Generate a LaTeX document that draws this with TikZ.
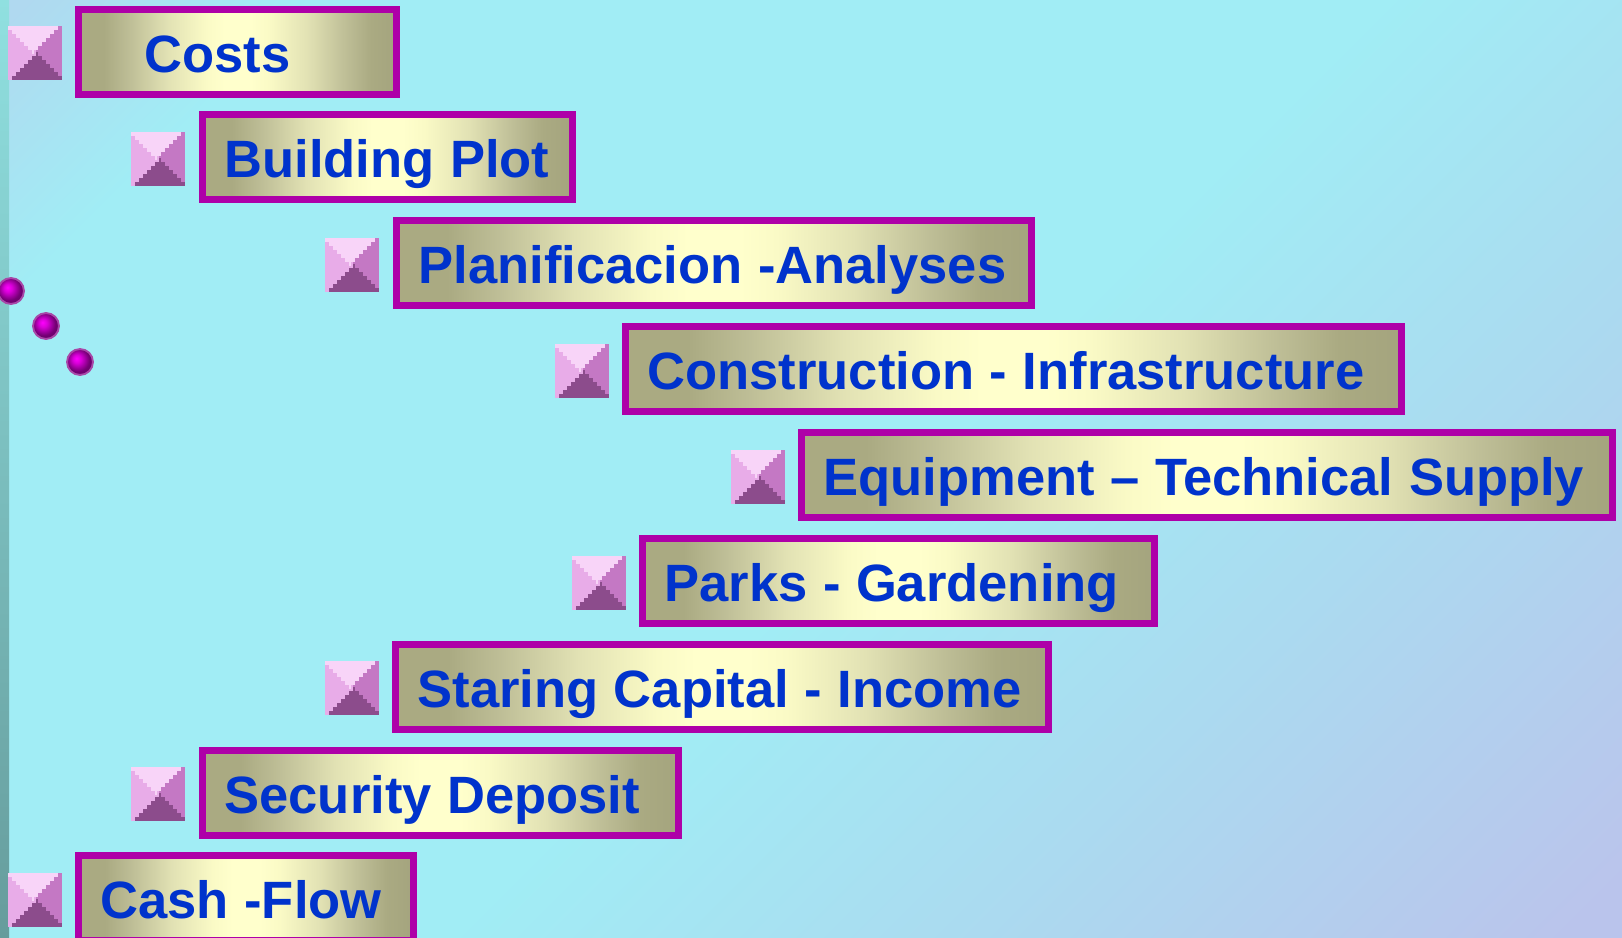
\documentclass[tikz,border=0pt]{standalone}
\usepackage{fontspec}
\setmainfont{Liberation Sans}
\usepackage{xcolor}
\definecolor{barframe}{HTML}{AE00A8}
\definecolor{bartext}{HTML}{0033CC}
\definecolor{barolive}{HTML}{AAAA82}
\definecolor{barolivedark}{HTML}{A4A47E}
\definecolor{barlight}{HTML}{FFFFCC}
\definecolor{iconleft}{HTML}{E8ACE8}
\definecolor{iconright}{HTML}{C478C4}
\definecolor{icontop}{HTML}{F8D4F8}
\definecolor{iconbottom}{HTML}{8C4C8C}
\definecolor{dotrim}{HTML}{A848A8}
\definecolor{striptop}{HTML}{90E0E0}
\definecolor{stripbottom}{HTML}{669C9C}
\pgfdeclarehorizontalshading{barshade}{100bp}{color(0bp)=(barolive); color(29bp)=(barolive); rgb(33bp)=(0.745,0.745,0.59); rgb(39bp)=(0.885,0.885,0.705); rgb(45bp)=(0.98,0.98,0.775); color(48bp)=(barlight); color(52bp)=(barlight); rgb(55bp)=(0.98,0.98,0.775); rgb(61bp)=(0.885,0.885,0.705); rgb(67bp)=(0.745,0.745,0.59); color(71bp)=(barolive); color(75bp)=(barolivedark); color(100bp)=(barolivedark)}
\pgfdeclarehorizontalshading{backshade}{100bp}{rgb(0bp)=(0.69,0.85,0.94); rgb(17bp)=(0.69,0.85,0.94); rgb(23bp)=(0.63,0.93,0.96); rgb(45bp)=(0.63,0.93,0.96); rgb(56bp)=(0.67,0.855,0.94); rgb(68bp)=(0.73,0.77,0.925); rgb(100bp)=(0.73,0.77,0.925)}
\pgfdeclareradialshading{dotshade}{\pgfpoint{-7bp}{7bp}}{rgb(0bp)=(1,0,1); rgb(8bp)=(0.85,0,0.85); rgb(22bp)=(0.45,0,0.45); rgb(50bp)=(0.35,0,0.35)}

\begin{document}
\begin{tikzpicture}[x=0.75pt, y=-0.75pt]
    \tikzset{barbox/.style 2 args={draw=barframe, line width=5.25pt, shading=barshade, anchor=north west, inner sep=0pt, text width=#1pt, align=left, text height=46.9pt, text depth=16.8pt, text=bartext, font=\fontsize{39.4}{47}\selectfont\bfseries, execute at begin node={\spaceskip=0.295em\hspace*{#2pt}}}}
    \tikzset{iconpic/.pic={
        \fill[fill=iconleft] (0,0) rectangle (28,54);
        \fill[fill=iconright] (27.5,0) rectangle (54,54);
        \foreach \k in {0,...,6} {
            \fill[fill=icontop] ({4*\k},{4*\k}) rectangle ({50-4*\k},{4*\k+4.2});
            \fill[fill=iconbottom] ({4+4*\k},{50-4*\k-0.2}) rectangle ({54-4*\k},{54-4*\k});
        }
        \node[minimum size=40.5pt, inner sep=0pt] (-box) at (27,27) {};
    }}
    \tikzset{dotball/.style={circle, draw=dotrim, line width=1.4pt, minimum size=19.5pt, inner sep=0pt, shading=dotshade}}

    % background
    \useasboundingbox (0,0) rectangle (1622,938);
    \begin{scope}
        \clip (0,0) rectangle (1622,938);
        \shade[shading=backshade, shading angle=-45] (-50,-50) rectangle (1672,1672);
        \shade[top color=striptop, bottom color=stripbottom] (0,0) rectangle (9,938);
    \end{scope}

    % boxes
    \node[barbox={238.5}{49.5}] (costs) at (75,6) {Costs};
    \node[barbox={277.5}{16.5}] (plot) at (199,111) {Building Plot};
    \node[barbox={476.25}{16.5}] (plan) at (393,217) {Planificacion -Analyses};
    \node[barbox={582}{16.5}] (build) at (622,323) {Construction - Infrastructure};
    \node[barbox={608.25}{16.5}] (equip) at (798,429) {Equipment -- Technical Supply};
    \node[barbox={384}{16.5}] (parks) at (639,535) {Parks - Gardening};
    \node[barbox={489.75}{16.5}] (capital) at (392,641) {Staring Capital - Income};
    \node[barbox={357}{16.5}] (deposit) at (199,747) {Security Deposit};
    \node[barbox={251.25}{16.5}] (cash) at (75,852) {Cash -Flow};

    % icons
    \pic (costsicon) at (8,26) {iconpic};
    \pic (ploticon) at (131,132) {iconpic};
    \pic (planicon) at (325,238) {iconpic};
    \pic (buildicon) at (555,344) {iconpic};
    \pic (equipicon) at (731,450) {iconpic};
    \pic (parksicon) at (572,556) {iconpic};
    \pic (capitalicon) at (325,661) {iconpic};
    \pic (depositicon) at (131,767) {iconpic};
    \pic (cashicon) at (8,873) {iconpic};

    % dots
    \node[dotball] (d1) at (11,291) {};
    \node[dotball] (d2) at (46,326) {};
    \node[dotball] (d3) at (80,362) {};
\end{tikzpicture}
\end{document}
